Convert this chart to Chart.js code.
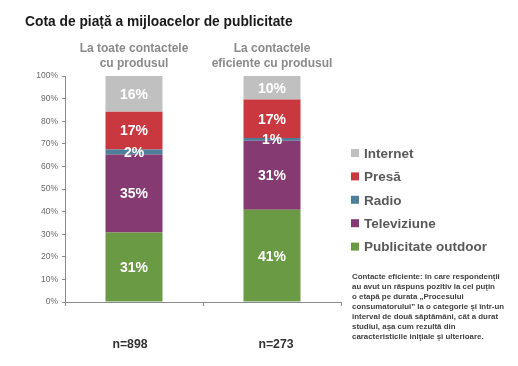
<!DOCTYPE html>
<html>
<head>
<meta charset="utf-8">
<script src="https://cdn.jsdelivr.net/npm/chart.js@4.4.1/dist/chart.umd.min.js"></script>
<style>
  html, body { margin:0; padding:0; background:#fff; }
  #wrap { width:518px; height:366px; }
</style>
</head>
<body>
<div id="wrap"><canvas id="cota" width="518" height="366"></canvas></div>
<script>
// values (share of each medium, %)
const categories = [['La toate contactele', 'cu produsul'], ['La contactele', 'eficiente cu produsul']];
const sampleSizes = ['n=898', 'n=273'];
const seriesNames = ['Publicitate outdoor', 'Televiziune', 'Radio', 'Presă', 'Internet'];
const outdoor  = [30.8, 40.8];
const tv       = [34.5, 30.6];
const radio    = [2.2, 1.2];
const presa    = [16.7, 17.0];
const internet = [15.8, 10.4];
const seriesColors = ['#6b9a45', '#853a72', '#4e7f9a', '#c9373f', '#c0c0c0'];
const yTickValues = [0, 10, 20, 30, 40, 50, 60, 70, 80, 90, 100];

const footnote = [
  'Contacte eficiente: în care respondenţii',
  'au avut un răspuns pozitiv la cel puţin',
  'o etapă pe durata „Procesului',
  'consumatorului” la o categorie şi într-un',
  'interval de două săptămâni, cât a durat',
  'studiul, aşa cum rezultă din',
  'caracteristicile iniţiale şi ulterioare.'
];

const FONT = '"Liberation Sans", Arial, sans-serif';

// extra text: title, column headers, n=, value labels, legend, note
const decorPlugin = {
  id: 'decor',
  afterDatasetsDraw(chart) {
    const ctx = chart.ctx;
    const x = chart.scales.x;
    ctx.save();

    // value labels inside segments
    ctx.font = 'bold 14px ' + FONT;
    ctx.fillStyle = '#ffffff';
    ctx.textAlign = 'center';
    ctx.textBaseline = 'middle';
    chart.data.datasets.forEach((ds, i) => {
      chart.getDatasetMeta(i).data.forEach((bar, j) => {
        const p = bar.getProps(['x', 'y', 'base'], true);
        ctx.fillText(Math.round(ds.data[j]) + '%', p.x, (p.y + p.base) / 2 + 1);
      });
    });

    // title
    ctx.textAlign = 'left';
    ctx.fillStyle = '#1a1a1a';
    ctx.font = 'bold 13.8px ' + FONT;
    ctx.fillText('Cota de piață a mijloacelor de publicitate', 25, 22);

    // column headers
    ctx.textAlign = 'center';
    ctx.fillStyle = '#8a8a8a';
    ctx.font = 'bold 12px ' + FONT;
    categories.forEach((lines, j) => {
      const cx = x.getPixelForValue(j);
      lines.forEach((t, k) => ctx.fillText(t, cx, 49 + k * 15));
    });

    // sample sizes
    ctx.fillStyle = '#333333';
    ctx.font = 'bold 12.3px ' + FONT;
    sampleSizes.forEach((t, j) => ctx.fillText(t, x.getPixelForValue(j) + (j ? 4 : -4), 345));

    // legend, top to bottom reversed
    ctx.textAlign = 'left';
    ctx.font = 'bold 13.5px ' + FONT;
    for (let k = 0; k < seriesNames.length; k++) {
      const i = seriesNames.length - 1 - k;
      const cy = 153 + k * 23.4;
      ctx.fillStyle = seriesColors[i];
      ctx.fillRect(351, cy - 4, 8, 8);
      ctx.fillStyle = '#595959';
      ctx.fillText(seriesNames[i], 364, cy + 1);
    }

    // note
    ctx.fillStyle = '#3f3f3f';
    ctx.font = 'bold 7.9px ' + FONT;
    footnote.forEach((t, k) => ctx.fillText(t, 352, 277 + k * 10));

    ctx.restore();
  }
};

new Chart(document.getElementById('cota'), {
  type: 'bar',
  data: {
    labels: categories.map(c => c.join(' ')),
    datasets: [outdoor, tv, radio, presa, internet].map((d, i) => ({
      label: seriesNames[i],
      data: d,
      backgroundColor: seriesColors[i],
      borderWidth: 0,
      categoryPercentage: 1,
      barPercentage: 0.413
    }))
  },
  options: {
    responsive: false,
    animation: false,
    layout: { padding: { left: 0, right: 177, top: 76, bottom: 54 } },
    plugins: { legend: { display: false }, title: { display: false }, tooltip: { enabled: false } },
    scales: {
      x: {
        stacked: true,
        grid: { display: true, drawOnChartArea: false, tickLength: 4, color: '#8c8c8c' },
        border: { display: true, color: '#8c8c8c', width: 1 },
        ticks: { display: false },
        afterFit(s) { s.height = 10; }
      },
      y: {
        stacked: true,
        min: 0,
        max: 100,
        afterBuildTicks(s) { s.ticks = yTickValues.map(v => ({ value: v })); },
        grid: { display: true, drawOnChartArea: false, tickLength: 3, color: '#8c8c8c' },
        border: { display: true, color: '#8c8c8c', width: 1 },
        ticks: {
          padding: 4,
          color: '#6a6a6a',
          font: { family: FONT, size: 8.5 },
          callback: v => v + '%'
        },
        afterFit(s) { s.width = 65; }
      }
    }
  },
  plugins: [decorPlugin]
});
</script>
</body>
</html>
